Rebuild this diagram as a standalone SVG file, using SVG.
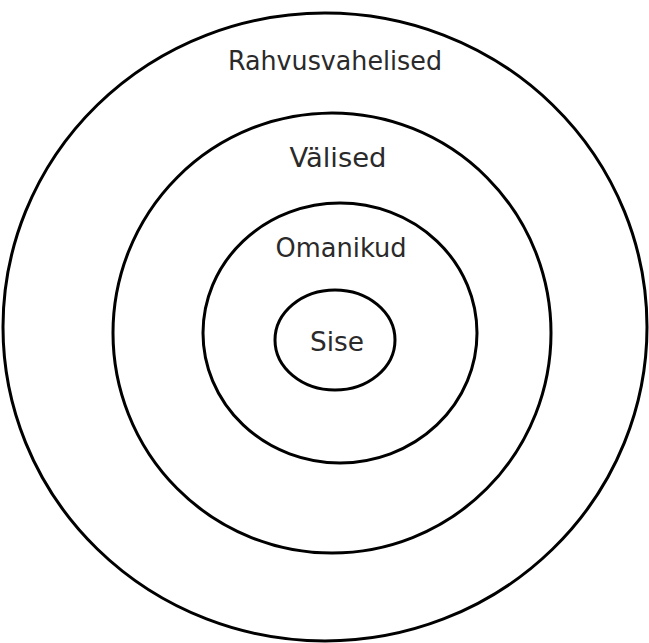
<svg xmlns="http://www.w3.org/2000/svg" width="649" height="643" viewBox="0 0 649 643">
<style>
.ring{fill:none;stroke:#000;stroke-width:3}
.lbl{font-family:"DejaVu Sans Condensed","DejaVu Sans","Liberation Sans",sans-serif;font-size:26px;fill:#2a2a2a;text-anchor:middle}
</style>
<rect width="649" height="643" fill="#fff"/>
<g id="rahvusvahelised">
<ellipse class="ring" cx="325" cy="327" rx="322" ry="314"/>
<text class="lbl" x="335" y="70" textLength="214" lengthAdjust="spacingAndGlyphs">Rahvusvahelised</text>
</g>
<g id="valised">
<ellipse class="ring" cx="332" cy="333" rx="219" ry="220"/>
<text class="lbl" x="338" y="167" textLength="97" lengthAdjust="spacingAndGlyphs">Välised</text>
</g>
<g id="omanikud">
<ellipse class="ring" cx="340" cy="333" rx="137" ry="130"/>
<text class="lbl" x="341" y="257" textLength="131" lengthAdjust="spacingAndGlyphs">Omanikud</text>
</g>
<g id="sise">
<ellipse class="ring" cx="335" cy="340" rx="60" ry="50"/>
<text class="lbl" x="337" y="351" textLength="54" lengthAdjust="spacingAndGlyphs">Sise</text>
</g>
<g id="connectors"/>
</svg>
